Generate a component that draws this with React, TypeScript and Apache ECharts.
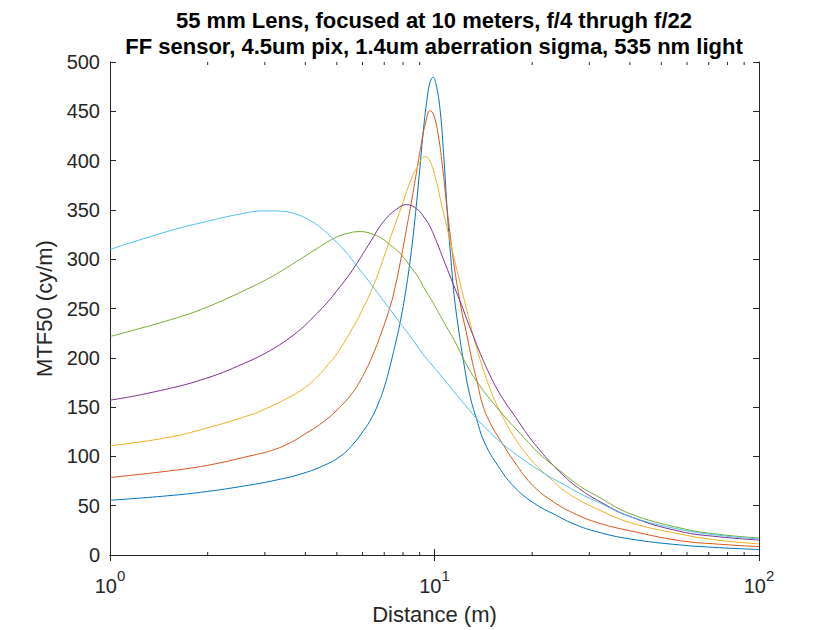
import React, { useEffect, useRef } from 'react';
import * as echarts from 'echarts';

const titleLines = [
  '55 mm Lens, focused at 10 meters, f/4 thrugh f/22',
  'FF sensor, 4.5um pix, 1.4um aberration sigma, 535 nm light',
];
const xAxisName = 'Distance (m)';
const yAxisName = 'MTF50 (cy/m)';
const xMin = 1;
const xMax = 100;
const yMin = 0;
const yMax = 500;
const yInterval = 50;
const xMinorTicks = [2, 3, 4, 5, 6, 7, 8, 9, 20, 30, 40, 50, 60, 70, 80, 90];
const seriesColors = ['#0072BD', '#D95319', '#EDB120', '#7E2F8E', '#77AC30', '#4DBEEE'];

// [distance (m), MTF50 (cy/m)]
const curveF4: number[][] = [
  [1, 55.5], [1.5, 60], [2, 64.5], [2.7, 71], [3.2, 75.5], [3.86, 82], [4.5, 90], [5.12, 100],
  [5.6, 112], [6.04, 126], [6.4, 139], [6.7, 153], [7.0, 170], [7.3, 192], [7.6, 216], [7.85, 237],
  [8.1, 262], [8.4, 297], [8.7, 340], [9.0, 390], [9.25, 432], [9.5, 464], [9.7, 480], [9.9, 484.5],
  [10.1, 478], [10.4, 452], [10.7, 400], [11.0, 338], [11.25, 298], [11.49, 264], [11.85, 230],
  [12.28, 197], [12.81, 164], [13.5, 137], [14.31, 113], [15.73, 90], [17.5, 70], [20.17, 53],
  [23.8, 40], [27.1, 31], [31.6, 23.6], [40, 16.3], [57, 10.2], [75, 7.5], [100, 5.5],
];
const curveF56: number[][] = [
  [1, 78.6], [1.5, 85], [2, 91], [2.7, 100.5], [3.15, 106], [3.6, 114], [4.0, 123], [4.5, 134],
  [5.06, 148.5], [5.6, 165], [6.0, 181], [6.4, 200], [6.8, 222], [7.3, 252], [7.6, 275], [7.93, 305],
  [8.2, 331], [8.51, 360], [8.8, 388], [9.14, 420], [9.4, 439], [9.69, 450.7], [9.95, 446],
  [10.28, 425], [10.6, 392], [10.9, 355], [11.2, 322], [11.5, 293], [11.85, 266], [12.2, 243],
  [12.51, 227], [13.02, 199], [13.5, 177], [14.15, 150], [15.0, 131], [15.92, 117], [17.93, 91],
  [20.17, 70], [23.24, 54], [27.4, 41], [32.4, 32], [40, 24.6], [57, 14.6], [75, 11], [100, 8.5],
];
const curveF8: number[][] = [
  [1, 110.8], [1.5, 119], [1.97, 128.4], [2.7, 142], [3.1, 150], [3.43, 157], [3.9, 167.5],
  [4.34, 180.5], [4.7, 193], [5.0, 204], [5.5, 226], [6.04, 251], [6.5, 274], [7.0, 303], [7.5, 332],
  [7.93, 354], [8.4, 378], [8.9, 395], [9.36, 404], [9.7, 399], [10.16, 377], [10.6, 350],
  [10.91, 333], [11.49, 301], [11.93, 279], [12.43, 255], [13.02, 229], [13.77, 200], [15.01, 164],
  [15.85, 147], [17.5, 121], [19.55, 99], [21.14, 87], [22.7, 78], [24.9, 66], [28, 55.5], [32, 46],
  [40, 33], [57, 21.3], [75, 15], [100, 11.3],
];
const curveF11: number[][] = [
  [1, 157], [1.35, 165], [1.97, 179], [2.7, 197], [3.1, 207], [3.43, 216], [3.9, 230], [4.34, 245],
  [4.7, 257], [5.0, 268], [5.4, 282], [5.77, 296], [6.33, 317], [6.96, 338], [7.66, 351],
  [8.21, 355.3], [8.82, 351], [9.36, 341], [9.69, 333], [10.2, 316], [10.65, 300], [11.1, 285],
  [11.57, 270], [12.1, 254], [12.58, 239], [13.2, 221], [13.77, 206], [14.6, 187], [15.55, 169],
  [16.5, 155], [17.5, 143], [19.55, 120], [21.14, 106], [22.7, 94.5], [24.9, 81], [28, 67],
  [32, 55], [40, 39], [57, 24], [75, 18.5], [100, 15.2],
];
const curveF16: number[][] = [
  [1, 221.6], [1.55, 239], [1.97, 250.8], [2.7, 271], [3.1, 281], [3.43, 289.5], [3.9, 301],
  [4.14, 306.5], [4.5, 314], [4.86, 320.5], [5.3, 325.5], [5.9, 328], [6.5, 325], [6.96, 320],
  [7.21, 316], [7.6, 310], [7.93, 304], [8.41, 293], [8.9, 282], [9.24, 272], [9.69, 261],
  [10.41, 243], [10.91, 231], [11.5, 218], [12.28, 199], [12.9, 186], [13.5, 176], [14.5, 162],
  [15.73, 148], [16.8, 137], [17.93, 127], [19.5, 114], [21.14, 102], [22.7, 93.5], [24.9, 83],
  [28, 70], [32, 59], [40, 42], [57, 27.5], [75, 21], [100, 17.3],
];
const curveF22: number[][] = [
  [1, 310], [1.55, 329.4], [1.97, 338], [2.49, 345.5], [3.0, 349], [3.4, 348.5], [3.8, 345],
  [4.2, 338], [4.5, 331], [4.86, 321], [5.31, 308], [5.77, 293], [6.33, 276], [6.96, 258],
  [7.3, 249], [7.93, 233], [8.5, 220], [9.2, 204], [9.69, 195], [10.41, 183], [11.17, 170.5],
  [12.0, 158], [12.58, 150], [13.5, 138], [14.5, 127.5], [15.92, 115], [17.5, 104], [19.5, 93],
  [21.14, 85.5], [22.7, 79], [24.9, 72], [28, 62.5], [32, 53.5], [40, 39], [57, 26], [75, 20],
  [100, 16.3],
];
const curves = [curveF4, curveF56, curveF8, curveF11, curveF16, curveF22];

const FONT = '"Liberation Sans", Arial, Helvetica, sans-serif';
const AXIS_COLOR = '#262626';

export default function App() {
  const ref = useRef<HTMLDivElement>(null);
  useEffect(() => {
    if (!ref.current) return;
    const chart = echarts.init(ref.current, undefined, { renderer: 'svg' });
    const lineSeries = curves.map((data, i) => ({
      type: 'line',
      data,
      showSymbol: false,
      symbol: 'none',
      smooth: 0.45,
      lineStyle: { color: seriesColors[i], width: 1 },
      itemStyle: { color: seriesColors[i] },
      xAxisIndex: 0,
      yAxisIndex: 0,
      z: 3,
    }));
    const tickStyle = { color: AXIS_COLOR, width: 1 };
    chart.setOption({
      animation: false,
      backgroundColor: '#ffffff',
      textStyle: { fontFamily: FONT },
      grid: { left: 110, right: 81, top: 62, bottom: 70, containLabel: false },
      graphic: titleLines.map((t, i) => ({
        type: 'text',
        x: 434,
        y: 20 + i * 26,
        style: {
          text: t,
          font: `bold 22px ${FONT}`,
          fill: '#000000',
          textAlign: 'center',
          textVerticalAlign: 'middle',
          align: 'center',
          verticalAlign: 'middle',
        },
      })),
      xAxis: [
        {
          type: 'log',
          logBase: 10,
          min: xMin,
          max: xMax,
          position: 'bottom',
          name: xAxisName,
          nameLocation: 'middle',
          nameGap: 48,
          nameTextStyle: { fontSize: 22, color: AXIS_COLOR, fontFamily: FONT },
          axisLine: { show: true, lineStyle: tickStyle },
          axisTick: { show: true, inside: true, length: 6, lineStyle: tickStyle },
          splitLine: { show: false },
          axisLabel: {
            margin: 13,
            color: AXIS_COLOR,
            formatter: (v: number) => `{b|10}{s|${Math.round(Math.log10(v))}}`,
            rich: {
              b: { fontSize: 20, lineHeight: 36, color: AXIS_COLOR, fontFamily: FONT },
              s: { fontSize: 15, lineHeight: 15, verticalAlign: 'top', color: AXIS_COLOR, fontFamily: FONT },
            },
          },
        },
        {
          type: 'log',
          logBase: 10,
          min: xMin,
          max: xMax,
          position: 'top',
          axisLine: { show: true, lineStyle: tickStyle },
          axisTick: { show: true, inside: true, length: 6, lineStyle: tickStyle },
          axisLabel: { show: false },
          splitLine: { show: false },
        },
      ],
      yAxis: [
        {
          type: 'value',
          min: yMin,
          max: yMax,
          interval: yInterval,
          position: 'left',
          name: yAxisName,
          nameLocation: 'middle',
          nameGap: 50,
          nameRotate: 90,
          nameTextStyle: { fontSize: 22, color: AXIS_COLOR, fontFamily: FONT },
          axisLine: { show: true, lineStyle: tickStyle },
          axisTick: { show: true, inside: true, length: 6, lineStyle: tickStyle },
          splitLine: { show: false },
          axisLabel: { fontSize: 20, color: AXIS_COLOR, margin: 10, fontFamily: FONT },
        },
        {
          type: 'value',
          min: yMin,
          max: yMax,
          interval: yInterval,
          position: 'right',
          axisLine: { show: true, lineStyle: tickStyle },
          axisTick: { show: true, inside: true, length: 6, lineStyle: tickStyle },
          axisLabel: { show: false },
          splitLine: { show: false },
        },
      ],
      series: [
        ...lineSeries,
        {
          type: 'custom',
          silent: true,
          clip: false,
          xAxisIndex: 0,
          yAxisIndex: 0,
          z: 5,
          data: xMinorTicks.map((v) => [v, yMin]),
          renderItem: (_params: any, api: any) => {
            const v = api.value(0);
            const b = api.coord([v, yMin]);
            const t = api.coord([v, yMax]);
            const st = { stroke: AXIS_COLOR, lineWidth: 1 };
            return {
              type: 'group',
              children: [
                { type: 'line', shape: { x1: b[0], y1: b[1], x2: b[0], y2: b[1] - 3 }, style: st },
                { type: 'line', shape: { x1: t[0], y1: t[1], x2: t[0], y2: t[1] + 3 }, style: st },
              ],
            };
          },
        },
      ],
    });
    return () => chart.dispose();
  }, []);
  return (
    <div
      ref={ref}
      style={{ position: 'fixed', left: 0, top: 0, width: 840, height: 630, background: '#fff' }}
    />
  );
}
